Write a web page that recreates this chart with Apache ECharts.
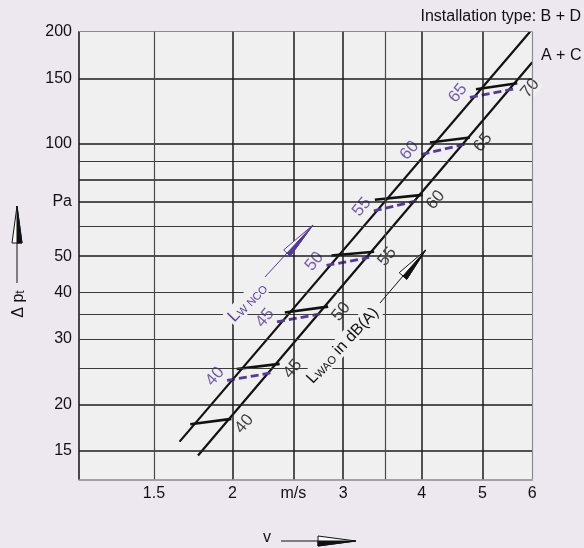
<!DOCTYPE html>
<html>
<head>
<meta charset="utf-8">
<script src="https://cdn.jsdelivr.net/npm/echarts@6/dist/echarts.min.js"></script>
<style>
html,body{margin:0;padding:0;background:#ede8ef;}
#c{width:584px;height:548px;}
</style>
</head>
<body>
<div id="c"></div>
<script>
// ---- data ----
const xTicks = [1.5, 2, 2.5, 3, 3.5, 4, 5, 6];
const xTickLabels = ['1.5', '2', 'm/s', '3', '', '4', '5', '6'];
const yTicks = [200, 150, 100, 90, 80, 70, 60, 50, 40, 35, 30, 25, 20, 15];
const yTickLabels = ['200', '150', '100', '', '', 'Pa', '', '50', '40', '', '30', '', '20', '15'];

// characteristic lines (v in m/s, dp in Pa)
const lineBD = [[1.648, 15.9], [5.95, 200]];
const lineAC = [[1.763, 14.6], [6.0, 165.6]];

// L_WA0 levels (black solid rungs)
const levelsWA = [40, 45, 50, 55, 60, 65, 70];
const rungWA = [
  [[1.714, 17.7], [1.992, 18.3]],
  [[2.031, 24.9], [2.378, 25.7]],
  [[2.423, 35.3], [2.840, 36.6]],
  [[2.875, 50.2], [3.361, 51.4]],
  [[3.370, 70.8], [4.015, 73.0]],
  [[4.123, 100.9], [4.774, 104.0]],
  [[4.881, 140.2], [5.678, 145.4]]
];
// L_WNC0 levels (purple dashed rungs)
const levelsWNC = [40, 45, 50, 55, 60, 65];
const rungWNC = [
  [[1.961, 23.2], [2.299, 24.3]],
  [[2.355, 33.3], [2.754, 35.0]],
  [[2.823, 47.2], [3.300, 49.6]],
  [[3.357, 66.1], [3.926, 70.4]],
  [[3.999, 93.7], [4.681, 99.8]],
  [[4.774, 133.4], [5.596, 140.4]]
];

// ---- styling ----
const FONT = "'Liberation Sans', Arial, Helvetica, sans-serif";
const BG = '#f0f0f0';
const INK = '#111111';
const PURPLE = '#55399a';
const strongY = new Set([150, 100, 80, 70, 50, 20, 15]);
const strongX = new Set([2, 2.5, 3, 4, 5]);
const ROT = 50;

// label offsets are applied in the rotated frame: convert a screen offset
function rotOffset(sx, sy, deg) {
  const t = deg * Math.PI / 180, c = Math.cos(t), s = Math.sin(t);
  return [sx * c - sy * s, sx * s + sy * c];
}

const gridLines = [];
yTicks.forEach((v, i) => {
  gridLines.push({
    yAxis: v, name: yTickLabels[i],
    lineStyle: v === 200 ? {color: '#8c8c8c', width: 1, type: 'solid'} :
      (strongY.has(v) ? {color: '#1c1c1c', width: 1.5, type: 'solid'} : {color: '#3a3a3a', width: 1.2, type: 'solid'}),
    label: {position: 'start', distance: 7}
  });
});
xTicks.forEach((v, i) => {
  gridLines.push({
    xAxis: v, name: xTickLabels[i],
    lineStyle: v === 6 ? {color: '#8c8c8c', width: 1.2, type: 'solid'} :
      (strongX.has(v) ? {color: '#1c1c1c', width: 1.5, type: 'solid'} : {color: '#4a4a4a', width: 1.2, type: 'solid'}),
    label: {position: 'start', distance: 6}
  });
});

function arrowEls(x0, y0, x1, y1, w, color) {
  const dx = x1 - x0, dy = y1 - y0, L = Math.hypot(dx, dy);
  const ux = dx / L, uy = dy / L, nx = -uy, ny = ux;
  const b1 = [x0 + nx * w, y0 + ny * w], b2 = [x0 - nx * w, y0 - ny * w];
  return [
    {type: 'polygon', z: 10, shape: {points: [b1, [x1, y1], b2]}, style: {fill: '#fafafa', stroke: color, lineWidth: 1}},
    {type: 'polygon', z: 11, shape: {points: [[x0, y0], [x1, y1], b1]}, style: {fill: color, stroke: color, lineWidth: 1}}
  ];
}
function shaft(x1, y1, x2, y2, color, w) {
  return {type: 'line', z: 10, shape: {x1, y1, x2, y2}, style: {stroke: color, lineWidth: w || 1}};
}

const graphics = [
  {type: 'text', z: 10, x: 581, y: 17, style: {text: 'Installation type: B + D', fontSize: 16, fontFamily: FONT, fill: INK, align: 'right', verticalAlign: 'middle'}},
  {type: 'text', z: 10, x: 541, y: 56, style: {text: 'A + C', fontSize: 16, fontFamily: FONT, fill: INK, align: 'left', verticalAlign: 'middle'}},
  // y title
  {type: 'text', z: 10, x: 18, y: 304, rotation: Math.PI / 2, style: {
    text: '{a|Δ p}{b|t}', align: 'center', verticalAlign: 'middle',
    rich: {a: {fontSize: 16, fontFamily: FONT, fill: INK, verticalAlign: 'bottom', lineHeight: 18},
           b: {fontSize: 12, fontFamily: FONT, fill: INK, verticalAlign: 'bottom', lineHeight: 12}}}},
  shaft(17, 283, 17, 243, INK, 1),
  ...arrowEls(17, 243, 17, 206, 5, INK),
  // x title
  {type: 'text', z: 10, x: 267, y: 538, style: {text: 'v', fontSize: 16, fontFamily: FONT, fill: INK, align: 'center', verticalAlign: 'middle'}},
  shaft(281, 541, 318, 541, INK, 1),
  ...arrowEls(318, 541, 356, 541, 5, INK),
  // L_WNC0 annotation
  {type: 'text', z: 9, x: 247, y: 302, rotation: 46 * Math.PI / 180, style: {
    text: '{a|L}{b|W NCO}', align: 'center', verticalAlign: 'middle', backgroundColor: BG, padding: [0, 2],
    rich: {a: {fontSize: 17, fontFamily: FONT, fill: PURPLE, verticalAlign: 'bottom', lineHeight: 18},
           b: {fontSize: 11, fontFamily: FONT, fill: PURPLE, verticalAlign: 'bottom', lineHeight: 11}}}},
  shaft(265, 277, 287, 253, PURPLE, 1),
  ...arrowEls(287, 253, 313, 225, 4.5, PURPLE),
  // L_WA0 annotation
  {type: 'text', z: 9, x: 342, y: 345, rotation: 47 * Math.PI / 180, style: {
    text: '{a|L}{b|WAO}{a| in dB(A)}', align: 'center', verticalAlign: 'middle', backgroundColor: BG, padding: [0, 2],
    rich: {a: {fontSize: 16, fontFamily: FONT, fill: INK, verticalAlign: 'bottom', lineHeight: 18},
           b: {fontSize: 11, fontFamily: FONT, fill: INK, verticalAlign: 'bottom', lineHeight: 11}}}},
  shaft(380, 303, 403, 276, INK, 1),
  ...arrowEls(403, 276, 425.7, 250, 5, INK)
];

const chart = echarts.init(document.getElementById('c'));
chart.setOption({
  animation: false,
  backgroundColor: '#ede8ef',
  textStyle: {fontFamily: FONT},
  grid: {left: 79, right: 51.7, top: 31.7, bottom: 68.7, show: true, backgroundColor: BG, borderWidth: 0},
  xAxis: {
    type: 'log', logBase: 10, min: 1.14, max: 6,
    axisLine: {show: true, lineStyle: {color: '#8a8a8a', width: 1.5}},
    axisTick: {show: false}, axisLabel: {show: false}, splitLine: {show: false}
  },
  yAxis: {
    type: 'log', logBase: 10, min: 12.6, max: 200,
    axisLine: {show: true, lineStyle: {color: '#111', width: 1.5}},
    axisTick: {show: false}, axisLabel: {show: false}, splitLine: {show: false}
  },
  series: [
    {
      type: 'line', data: [], z: 1, silent: true,
      markLine: {
        symbol: ['none', 'none'], silent: true, animation: false,
        label: {show: true, formatter: '{b}', color: INK, fontSize: 16, fontFamily: FONT},
        data: gridLines
      }
    },
    {type: 'line', data: lineBD, symbol: 'none', z: 3, silent: true, lineStyle: {color: INK, width: 2.2}},
    {type: 'line', data: lineAC, symbol: 'none', z: 3, silent: true, lineStyle: {color: INK, width: 2.2}},
    {
      type: 'lines', coordinateSystem: 'cartesian2d', z: 4, silent: true,
      data: rungWA.map(c => ({coords: c})),
      lineStyle: {color: INK, width: 2.6, opacity: 1}
    },
    {
      type: 'lines', coordinateSystem: 'cartesian2d', z: 4, silent: true,
      data: rungWNC.map(c => ({coords: c})),
      lineStyle: {color: PURPLE, width: 2.8, type: [8, 4], opacity: 1}
    },
    {
      type: 'scatter', z: 2, silent: true, symbolSize: 0,
      data: levelsWA.map((lv, i) => [rungWA[i][1][0], rungWA[i][1][1], lv]),
      label: {show: true, position: 'inside', formatter: p => String(p.value[2]), rotate: ROT, offset: rotOffset(13, 5, ROT),
        color: INK, fontSize: 17, fontFamily: FONT, backgroundColor: BG, padding: [0, 1]}
    },
    {
      type: 'scatter', z: 2, silent: true, symbolSize: 0,
      data: levelsWNC.map((lv, i) => [rungWNC[i][0][0], rungWNC[i][0][1], lv]),
      label: {show: true, position: 'inside', formatter: p => String(p.value[2]), rotate: ROT, offset: rotOffset(-12, -4, ROT),
        color: PURPLE, fontSize: 17, fontFamily: FONT, backgroundColor: BG, padding: [0, 1]}
    }
  ],
  graphic: graphics
});
</script>
</body>
</html>
